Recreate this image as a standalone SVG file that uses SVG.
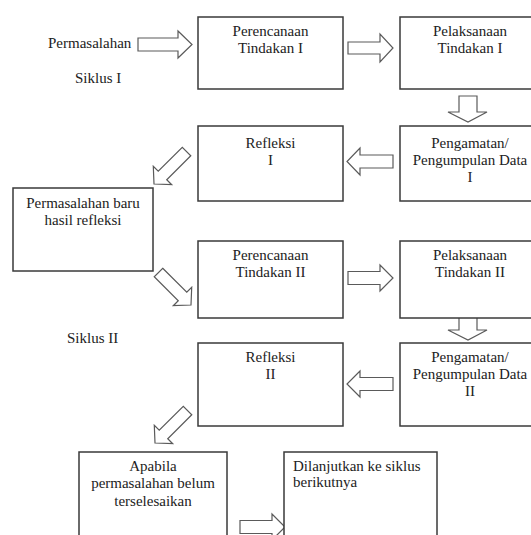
<svg xmlns="http://www.w3.org/2000/svg" width="531" height="535" viewBox="0 0 531 535">
<style>
.box{fill:#fff;stroke:#3a3a3a;stroke-width:1.5}
.arr{fill:#fff;stroke:#5a5a5a;stroke-width:1.2;stroke-linejoin:miter}
text{font-family:'Liberation Serif','DejaVu Serif',serif;font-size:15px;fill:#222}
.c{text-anchor:middle}
</style>
<defs>
<polygon id="darr" points="-46,-6 -12,-6 -12,-13 0,0 -12,13 -12,6 -46,6"/>
</defs>
<rect width="531" height="535" fill="#fff"/>
<g id="connectors">
<polygon class="arr" points="138,38 178,38 178,31 192,44.5 178,58 178,51 138,51"/>
<polygon class="arr" points="348,42 380,42 380,34 393,48 380,62 380,54 348,54"/>
<polygon class="arr" points="459,96 477,96 477,112 487,112 468,122 448,112 459,112"/>
<polygon class="arr" points="393,155 360,155 360,148 347,161.5 360,175 360,168 393,168"/>
<use href="#darr" class="arr" transform="translate(154,184) rotate(135)"/>
<use href="#darr" class="arr" transform="translate(191,305) rotate(45)"/>
<polygon class="arr" points="348,271.5 380,271.5 380,265 393,278 380,291 380,284.5 348,284.5"/>
<polygon class="arr" points="459,313 477,313 477,330 487,330 468,340 448,330 459,330"/>
<polygon class="arr" points="393,377.5 360,377.5 360,371 347,384 360,397 360,390.5 393,390.5"/>
<use href="#darr" class="arr" transform="translate(155,443) rotate(135)"/>
<polygon class="arr" points="240,520.5 272,520.5 272,514 285,527 272,540 272,533.5 240,533.5"/>
</g>
<g id="label-permasalahan"><text x="48" y="48" font-family="Liberation Serif, serif">Permasalahan</text></g>
<g id="label-siklus1"><text x="75" y="83">Siklus I</text></g>
<g id="label-siklus2"><text x="67" y="343">Siklus II</text></g>
<g id="perencanaan1"><rect class="box" x="198" y="17" width="145" height="72"/><text class="c" x="270.5" y="36">Perencanaan</text><text class="c" x="270.5" y="53">Tindakan I</text></g>
<g id="pelaksanaan1"><rect class="box" x="400" y="17" width="140" height="72"/><text class="c" x="470" y="36">Pelaksanaan</text><text class="c" x="470" y="53">Tindakan I</text></g>
<g id="refleksi1"><rect class="box" x="198" y="126" width="145" height="75"/><text class="c" x="270.5" y="148">Refleksi</text><text class="c" x="270.5" y="165">I</text></g>
<g id="pengamatan1"><rect class="box" x="400" y="126" width="140" height="75"/><text class="c" x="470" y="148">Pengamatan/</text><text class="c" x="470" y="165">Pengumpulan Data</text><text class="c" x="470" y="182">I</text></g>
<g id="permasalahan-baru"><rect class="box" x="13" y="188" width="140" height="83"/><text class="c" x="83" y="208">Permasalahan baru</text><text class="c" x="83" y="225">hasil refleksi</text></g>
<g id="perencanaan2"><rect class="box" x="198" y="241" width="145" height="77"/><text class="c" x="270.5" y="260">Perencanaan</text><text class="c" x="270.5" y="277">Tindakan II</text></g>
<g id="pelaksanaan2"><rect class="box" x="400" y="241" width="140" height="77"/><text class="c" x="470" y="260">Pelaksanaan</text><text class="c" x="470" y="277">Tindakan II</text></g>
<g id="refleksi2"><rect class="box" x="198" y="343" width="145" height="83"/><text class="c" x="270.5" y="362">Refleksi</text><text class="c" x="270.5" y="379">II</text></g>
<g id="pengamatan2"><rect class="box" x="400" y="343" width="140" height="83"/><text class="c" x="470" y="362">Pengamatan/</text><text class="c" x="470" y="379">Pengumpulan Data</text><text class="c" x="470" y="396">II</text></g>
<g id="apabila"><rect class="box" x="79" y="452" width="148" height="100"/><text class="c" x="153" y="471">Apabila</text><text class="c" x="153" y="488">permasalahan belum</text><text class="c" x="153" y="506">terselesaikan</text></g>
<g id="dilanjutkan"><rect class="box" x="284" y="452" width="153" height="100"/><text x="293" y="471">Dilanjutkan ke siklus</text><text x="293" y="487">berikutnya</text></g>
</svg>
